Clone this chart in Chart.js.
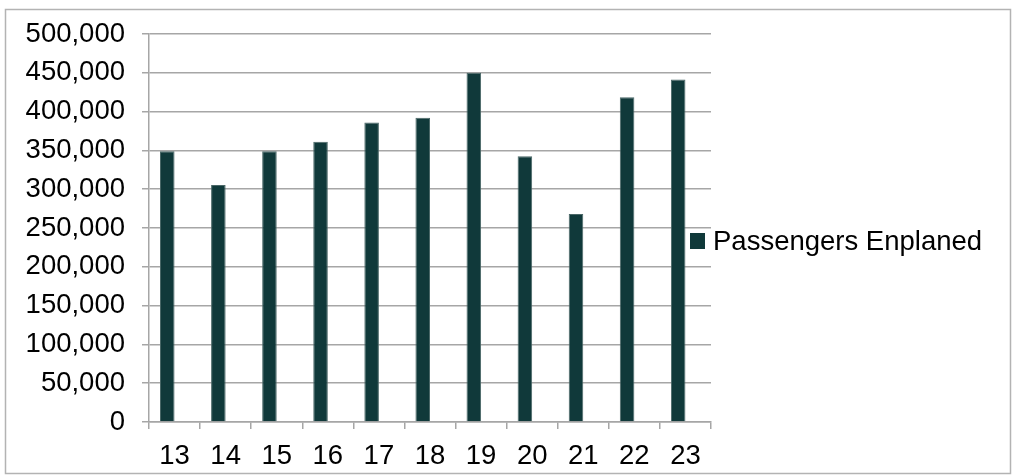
<!DOCTYPE html>
<html>
<head>
<meta charset="utf-8">
<script src="https://cdn.jsdelivr.net/npm/chart.js@4/dist/chart.umd.min.js"></script>
<style>
  html, body { margin: 0; padding: 0; background: #fff; }
  #wrap { width: 1013px; height: 476px; }
</style>
</head>
<body>
<div id="wrap"><canvas id="enplanedChart" width="1013" height="476"></canvas></div>
<script>
var categories = ["13", "14", "15", "16", "17", "18", "19", "20", "21", "22", "23"];
var seriesName = "Passengers Enplaned";
var enplaned = [349000, 305500, 349000, 361000, 386000, 392000, 450000, 342500, 268000, 418500, 441500];
// second (empty) series in the source workbook, keeps the bars off-centre
var emptySeries = [null, null, null, null, null, null, null, null, null, null, null];
var yMin = 0, yMax = 500000, yStep = 50000;

var barColor = "#10393a";
var gridColor = "#a6a6a6";
var fontFamily = "'Liberation Sans', Arial, sans-serif";
var fontSize = 27.5;

var ctx = document.getElementById("enplanedChart");
var chart = new Chart(ctx, {
	type: "bar",
	data: {
		labels: categories,
		datasets: [
			{
				label: seriesName,
				data: enplaned,
				backgroundColor: barColor,
				borderColor: "#4a6767",
				borderWidth: 1,
			},
			{
				label: "",
				data: emptySeries,
				backgroundColor: "transparent",
			},
		],
	},
	options: {
		responsive: false,
		animation: false,
		events: [],
		layout: {
			padding: { top: 34, right: 302, bottom: 0, left: 0 },
		},
		datasets: {
			bar: { categoryPercentage: 0.57, barPercentage: 1 },
		},
		plugins: {
			legend: { display: false },
			tooltip: { enabled: false },
		},
		scales: {
			x: {
				offset: true,
				grid: {
					offset: true,
					drawOnChartArea: false,
					drawTicks: true,
					tickLength: 7,
					color: gridColor,
					lineWidth: 1.5,
				},
				border: { color: gridColor, width: 1.5 },
				ticks: {
					color: "#000",
					padding: 11,
					maxRotation: 0,
					font: { family: fontFamily, size: fontSize },
				},
				afterFit: function (scale) {
					scale.height = 54;
				},
			},
			y: {
				min: yMin,
				max: yMax,
				grid: {
					color: gridColor,
					lineWidth: 1.5,
					tickLength: 7,
				},
				border: { color: gridColor, width: 1.5 },
				ticks: {
					stepSize: yStep,
					color: "#000",
					padding: 17,
					font: { family: fontFamily, size: fontSize },
					callback: function (v) {
						return v.toLocaleString("en-US");
					},
				},
				afterFit: function (scale) {
					scale.width = 149;
				},
			},
		},
	},
	plugins: [
		{
			id: "frameAndLegend",
			afterDraw: function (chart) {
				var c = chart.ctx;
				c.save();
				// outer frame
				c.strokeStyle = "#b3b3b3";
				c.lineWidth = 1.5;
				c.strokeRect(5.5, 9.5, 1005, 464);

				// legend entry
				var ds = chart.data.datasets[0];
				var x = chart.chartArea.right - 21;
				var y = 241;
				c.fillStyle = ds.backgroundColor;
				c.fillRect(x, y - 8, 15, 16);
				c.fillStyle = "#000";
				c.font = fontSize + "px " + fontFamily;
				c.textBaseline = "middle";
				c.textAlign = "left";
				c.fillText(ds.label, x + 23, y + 1);
				c.restore();
			},
		},
	],
});
</script>
</body>
</html>
